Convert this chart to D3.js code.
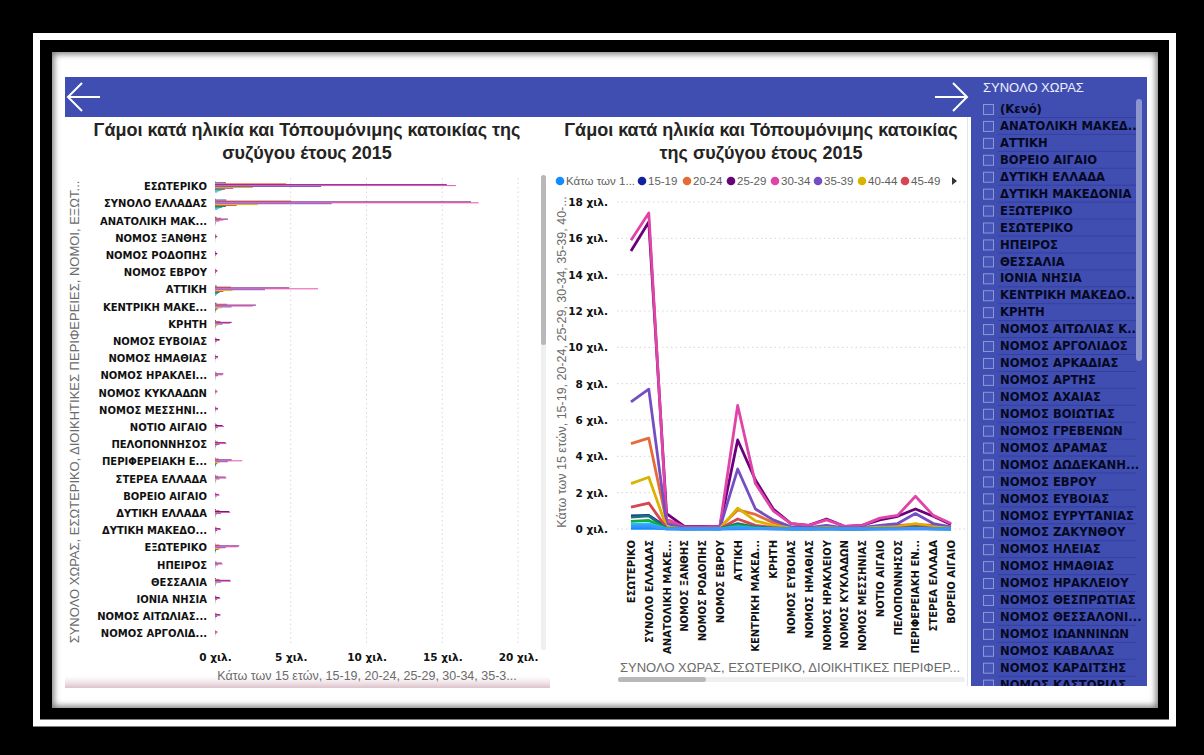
<!DOCTYPE html>
<html>
<head>
<meta charset="utf-8">
<script src="https://cdn.jsdelivr.net/npm/d3@7"></script>
<style>
  body { margin: 0; background: #000; }
  svg { display: block; }
</style>
</head>
<body>
<script>
//--------DATA-------------

// categories (ΣΥΝΟΛΟ ΧΩΡΑΣ, ΕΣΩΤΕΡΙΚΟ, ΔΙΟΙΚΗΤΙΚΕΣ ΠΕΡΙΦΕΡΕΙΕΣ, ΝΟΜΟΙ, ΕΞΩΤΕΡΙΚΟ)
var categories = [
  "ΕΣΩΤΕΡΙΚΟ", "ΣΥΝΟΛΟ ΕΛΛΑΔΑΣ", "ΑΝΑΤΟΛΙΚΗ ΜΑΚΕΔΟΝΙΑ ΚΑΙ ΘΡΑΚΗ", "ΝΟΜΟΣ ΞΑΝΘΗΣ",
  "ΝΟΜΟΣ ΡΟΔΟΠΗΣ", "ΝΟΜΟΣ ΕΒΡΟΥ", "ΑΤΤΙΚΗ", "ΚΕΝΤΡΙΚΗ ΜΑΚΕΔΟΝΙΑ", "ΚΡΗΤΗ",
  "ΝΟΜΟΣ ΕΥΒΟΙΑΣ", "ΝΟΜΟΣ ΗΜΑΘΙΑΣ", "ΝΟΜΟΣ ΗΡΑΚΛΕΙΟΥ", "ΝΟΜΟΣ ΚΥΚΛΑΔΩΝ",
  "ΝΟΜΟΣ ΜΕΣΣΗΝΙΑΣ", "ΝΟΤΙΟ ΑΙΓΑΙΟ", "ΠΕΛΟΠΟΝΝΗΣΟΣ", "ΠΕΡΙΦΕΡΕΙΑΚΗ ΕΝΟΤΗΤΑ ΘΕΣΣΑΛΟΝΙΚΗΣ",
  "ΣΤΕΡΕΑ ΕΛΛΑΔΑ", "ΒΟΡΕΙΟ ΑΙΓΑΙΟ", "ΔΥΤΙΚΗ ΕΛΛΑΔΑ", "ΔΥΤΙΚΗ ΜΑΚΕΔΟΝΙΑ", "ΕΞΩΤΕΡΙΚΟ",
  "ΗΠΕΙΡΟΣ", "ΘΕΣΣΑΛΙΑ", "ΙΟΝΙΑ ΝΗΣΙΑ", "ΝΟΜΟΣ ΑΙΤΩΛΙΑΣ ΚΑΙ ΑΚΑΡΝΑΝΙΑΣ", "ΝΟΜΟΣ ΑΡΓΟΛΙΔΟΣ"
];

// the line chart only shows the first 19 categories
var lineCategoryCount = 19;

var ageGroups = ["Κάτω των 15 ετών", "15-19", "20-24", "25-29", "30-34", "35-39",
  "40-44", "45-49", "50-54", "55-59", "60-64", "65 και άνω"];

var ageColors = ["#118DFF", "#12239E", "#E66C37", "#6B007B", "#E044A7", "#744EC2",
  "#D9B300", "#D64550", "#197278", "#1AAB40", "#15C6F4", "#4092FF"];

// marriages per age group, same order as categories
var under15 = [40, 50, 5, 1, 2, 1, 10, 8, 3, 1, 1, 2, 0, 1, 2, 2, 4, 2, 1, 3, 1, 10, 1, 3, 1, 1, 0];
var age1519 = [720, 750, 100, 30, 40, 20, 120, 100, 50, 20, 20, 30, 10, 20, 30, 40, 40, 40, 10, 60, 20, 30, 20, 50, 20, 20, 10];
var age2024 = [4700, 5000, 400, 70, 80, 80, 1050, 800, 350, 100, 80, 120, 50, 70, 150, 200, 250, 200, 70, 300, 120, 300, 120, 300, 100, 120, 50];
var age2529 = [15300, 16900, 850, 150, 150, 150, 4900, 2700, 1100, 300, 200, 550, 150, 200, 500, 700, 1100, 700, 250, 950, 350, 1600, 450, 1000, 300, 350, 150];
var age3034 = [15900, 17400, 550, 110, 120, 150, 6800, 2500, 1000, 300, 200, 500, 150, 200, 600, 750, 1800, 750, 300, 1000, 400, 1500, 500, 1050, 350, 350, 150];
var age3539 = [7000, 7700, 300, 50, 50, 60, 3300, 1100, 500, 120, 80, 200, 60, 80, 200, 300, 850, 300, 120, 400, 150, 700, 200, 400, 150, 140, 60];
var age4044 = [2500, 2850, 100, 20, 20, 30, 1150, 450, 200, 50, 30, 80, 30, 30, 100, 120, 300, 120, 50, 150, 60, 350, 70, 150, 60, 50, 20];
var age4549 = [1200, 1430, 50, 10, 10, 20, 550, 200, 80, 20, 10, 30, 10, 10, 40, 50, 150, 50, 20, 60, 30, 230, 30, 60, 30, 20, 10];
var age5054 = [650, 720, 30, 10, 10, 10, 300, 110, 40, 10, 10, 20, 5, 10, 20, 25, 80, 25, 10, 30, 15, 70, 15, 30, 15, 10, 5];
var age5559 = [420, 470, 20, 5, 5, 5, 200, 70, 25, 8, 5, 12, 4, 6, 15, 18, 50, 15, 6, 20, 10, 50, 10, 20, 10, 8, 4];
var age6064 = [250, 280, 10, 3, 3, 3, 120, 40, 15, 5, 3, 8, 3, 4, 10, 10, 30, 10, 4, 12, 6, 30, 6, 12, 6, 5, 2];
var age65 = [150, 170, 6, 2, 2, 2, 80, 25, 10, 3, 2, 5, 2, 2, 6, 6, 18, 6, 2, 8, 4, 20, 4, 8, 4, 3, 1];

var seriesValues = [under15, age1519, age2024, age2529, age3034, age3539,
  age4044, age4549, age5054, age5559, age6064, age65];

var barTicks = [0, 5000, 10000, 15000, 20000];
var lineTicks = [0, 2000, 4000, 6000, 8000, 10000, 12000, 14000, 16000, 18000];

var valueAxisTitle = "Κάτω των 15 ετών, 15-19, 20-24, 25-29, 30-34, 35-39, 40-44, 45-49, 50-54, 55-59, 60-64, 65 και άνω";
var categoryAxisTitle = "ΣΥΝΟΛΟ ΧΩΡΑΣ, ΕΣΩΤΕΡΙΚΟ, ΔΙΟΙΚΗΤΙΚΕΣ ΠΕΡΙΦΕΡΕΙΕΣ, ΝΟΜΟΙ, ΕΞΩΤΕΡΙΚΟ";

var slicerTitle = "ΣΥΝΟΛΟ ΧΩΡΑΣ";
var slicerItems = ["(Κενό)", "ΑΝΑΤΟΛΙΚΗ ΜΑΚΕΔΟΝΙΑ ΚΑΙ ΘΡΑΚΗ", "ΑΤΤΙΚΗ", "ΒΟΡΕΙΟ ΑΙΓΑΙΟ",
  "ΔΥΤΙΚΗ ΕΛΛΑΔΑ", "ΔΥΤΙΚΗ ΜΑΚΕΔΟΝΙΑ", "ΕΞΩΤΕΡΙΚΟ", "ΕΣΩΤΕΡΙΚΟ", "ΗΠΕΙΡΟΣ", "ΘΕΣΣΑΛΙΑ",
  "ΙΟΝΙΑ ΝΗΣΙΑ", "ΚΕΝΤΡΙΚΗ ΜΑΚΕΔΟΝΙΑ", "ΚΡΗΤΗ", "ΝΟΜΟΣ ΑΙΤΩΛΙΑΣ ΚΑΙ ΑΚΑΡΝΑΝΙΑΣ",
  "ΝΟΜΟΣ ΑΡΓΟΛΙΔΟΣ", "ΝΟΜΟΣ ΑΡΚΑΔΙΑΣ", "ΝΟΜΟΣ ΑΡΤΗΣ", "ΝΟΜΟΣ ΑΧΑΙΑΣ", "ΝΟΜΟΣ ΒΟΙΩΤΙΑΣ",
  "ΝΟΜΟΣ ΓΡΕΒΕΝΩΝ", "ΝΟΜΟΣ ΔΡΑΜΑΣ", "ΝΟΜΟΣ ΔΩΔΕΚΑΝΗΣΟΥ", "ΝΟΜΟΣ ΕΒΡΟΥ", "ΝΟΜΟΣ ΕΥΒΟΙΑΣ",
  "ΝΟΜΟΣ ΕΥΡΥΤΑΝΙΑΣ", "ΝΟΜΟΣ ΖΑΚΥΝΘΟΥ", "ΝΟΜΟΣ ΗΛΕΙΑΣ", "ΝΟΜΟΣ ΗΜΑΘΙΑΣ", "ΝΟΜΟΣ ΗΡΑΚΛΕΙΟΥ",
  "ΝΟΜΟΣ ΘΕΣΠΡΩΤΙΑΣ", "ΝΟΜΟΣ ΘΕΣΣΑΛΟΝΙΚΗΣ", "ΝΟΜΟΣ ΙΩΑΝΝΙΝΩΝ", "ΝΟΜΟΣ ΚΑΒΑΛΑΣ",
  "ΝΟΜΟΣ ΚΑΡΔΙΤΣΗΣ", "ΝΟΜΟΣ ΚΑΣΤΟΡΙΑΣ"];

//--------HELPERS-------------

var BLUE = "#404EB2";
var boldFont = "'DejaVu Sans', Verdana, sans-serif";
var sansFont = "'Liberation Sans', Arial, sans-serif";

// cut a text down with "..." until it fits maxWidth, like Power BI does
function fitText(sel, maxWidth) {
  sel.each(function() {
    var t = d3.select(this);
    var s = t.text();
    while (s.length > 1 && this.getComputedTextLength() > maxWidth) {
      s = s.slice(0, -1);
      t.text(s.replace(/\s+$/, "") + "...");
    }
  });
}

function kLabel(v) {
  return (v / 1000) + " χιλ.";
}

function drawTitle(g, cx, lines) {
  lines.forEach(function(line, i) {
    g.append("text")
      .attr("x", cx)
      .attr("y", 136 + i * 23)
      .attr("text-anchor", "middle")
      .attr("font-family", sansFont)
      .attr("font-weight", "bold")
      .attr("font-size", 18)
      .attr("fill", "#252423")
      .text(line);
  });
}

//--------MAIN-------------

var svg = d3.select("body").append("svg")
  .attr("width", 1204)
  .attr("height", 755);

var defs = svg.append("defs");
defs.append("filter").attr("id", "blur")
  .append("feGaussianBlur").attr("stdDeviation", 3);
defs.append("clipPath").attr("id", "pageClip")
  .append("rect").attr("x", 52).attr("y", 52).attr("width", 1106).attr("height", 656);
defs.append("clipPath").attr("id", "slicerClip")
  .append("rect").attr("x", 971).attr("y", 100).attr("width", 172).attr("height", 586);
var fade = defs.append("linearGradient").attr("id", "cardShadow")
  .attr("x1", 0).attr("y1", 0).attr("x2", 0).attr("y2", 1);
fade.append("stop").attr("offset", "0%").attr("stop-color", "#e8d6dc").attr("stop-opacity", 0);
fade.append("stop").attr("offset", "100%").attr("stop-color", "#d8bcc6").attr("stop-opacity", 0.9);

// outer white frame
svg.append("rect")
  .attr("x", 36.5).attr("y", 36.5)
  .attr("width", 1136).attr("height", 686.5)
  .attr("fill", "none")
  .attr("stroke", "#fff")
  .attr("stroke-width", 7);

// report page with a soft inner shadow
svg.append("rect")
  .attr("x", 52).attr("y", 52).attr("width", 1106).attr("height", 656)
  .attr("fill", "#fff");
svg.append("g").attr("clip-path", "url(#pageClip)")
  .append("rect")
  .attr("x", 50).attr("y", 50).attr("width", 1110).attr("height", 660)
  .attr("fill", "none")
  .attr("stroke", "#777")
  .attr("stroke-width", 8)
  .attr("filter", "url(#blur)");

// header bar + slicer panel
svg.append("rect")
  .attr("x", 65).attr("y", 77).attr("width", 1082).attr("height", 40)
  .attr("fill", BLUE);
svg.append("rect")
  .attr("x", 971).attr("y", 77).attr("width", 176).attr("height", 609)
  .attr("fill", BLUE);

// back / forward arrows
var arrows = svg.append("g")
  .attr("stroke", "#fff")
  .attr("stroke-width", 2)
  .attr("fill", "none");
arrows.append("path").attr("d", "M100,97 H68 M82,83 L68,97 L82,111");
arrows.append("path").attr("d", "M935,97 H967 M953,83 L967,97 L953,111");

// bottom shadow of the left card
svg.append("rect")
  .attr("x", 65).attr("y", 676).attr("width", 485).attr("height", 12)
  .attr("fill", "url(#cardShadow)");

// faint border on the right card
svg.append("line")
  .attr("x1", 967.5).attr("x2", 967.5).attr("y1", 117).attr("y2", 686)
  .attr("stroke", "#dfe4f2");

//--------LEFT CHART: clustered bars-------------

var barChart = svg.append("g");
drawTitle(barChart, 307, ["Γάμοι κατά ηλικία και Τόπουμόνιμης κατοικίας της", "συζύγου έτους 2015"]);

var xBar = d3.scaleLinear()
  .domain([0, 20000])
  .range([215, 518]);

var yBand = d3.scaleBand()
  .domain(categories)
  .range([178.4, 178.4 + categories.length * 17.2])
  .paddingInner(0.36)
  .paddingOuter(0.18);

var yInner = d3.scaleBand()
  .domain(ageGroups)
  .range([0, yBand.bandwidth()]);

// dotted gridlines
barChart.append("g")
  .selectAll("line")
  .data(barTicks.slice(1))
  .enter()
  .append("line")
  .attr("x1", d => xBar(d)).attr("x2", d => xBar(d))
  .attr("y1", 178).attr("y2", 646)
  .attr("stroke", "#d6d6d6")
  .attr("stroke-dasharray", "1.5,3");

// x axis
var bottomAxis = d3.axisBottom(xBar)
  .tickValues(barTicks)
  .tickFormat(kLabel)
  .tickSize(0)
  .tickPadding(0);
var xAxisBar = barChart.append("g")
  .attr("transform", "translate(0, 654)")
  .call(bottomAxis);
xAxisBar.select(".domain").remove();
xAxisBar.selectAll("text")
  .attr("font-family", boldFont)
  .attr("font-weight", "bold")
  .attr("font-size", 10.5)
  .attr("fill", "#111");

// y axis
var leftAxis = d3.axisLeft(yBand).tickSize(0).tickPadding(8);
var yAxisBar = barChart.append("g")
  .attr("transform", "translate(215, 0)")
  .call(leftAxis);
yAxisBar.select(".domain").remove();
yAxisBar.selectAll("text")
  .attr("font-family", boldFont)
  .attr("font-weight", "bold")
  .attr("font-size", 10)
  .attr("fill", "#111")
  .call(fitText, 110);

// bars
var rowGroups = barChart.append("g")
  .selectAll("g")
  .data(categories)
  .enter()
  .append("g")
  .attr("transform", d => `translate(0, ${yBand(d)})`);

rowGroups.selectAll("rect")
  .data((c, ci) => ageGroups.map((a, si) => ({ age: a, color: ageColors[si], value: seriesValues[si][ci] })))
  .enter()
  .append("rect")
  .attr("x", xBar(0))
  .attr("y", d => yInner(d.age))
  .attr("width", d => xBar(d.value) - xBar(0))
  .attr("height", yInner.bandwidth())
  .attr("fill", d => d.color);

// axis titles
barChart.append("text")
  .attr("x", 367)
  .attr("y", 680)
  .attr("text-anchor", "middle")
  .attr("font-family", sansFont)
  .attr("font-size", 12.5)
  .attr("fill", "#6b6b6b")
  .text(valueAxisTitle)
  .call(fitText, 300);

barChart.append("text")
  .attr("transform", "translate(79, 412) rotate(-90)")
  .attr("text-anchor", "middle")
  .attr("font-family", sansFont)
  .attr("font-size", 13)
  .attr("fill", "#6b6b6b")
  .text(categoryAxisTitle)
  .call(fitText, 468);

// vertical scrollbar
barChart.append("rect")
  .attr("x", 541).attr("y", 175).attr("width", 5).attr("height", 475)
  .attr("rx", 2.5).attr("fill", "#efefef");
barChart.append("rect")
  .attr("x", 541).attr("y", 175).attr("width", 5).attr("height", 170)
  .attr("rx", 2.5).attr("fill", "#b8b8b8");

//--------RIGHT CHART: lines-------------

var lineChart = svg.append("g");
drawTitle(lineChart, 761, ["Γάμοι κατά ηλικία και Τόπουμόνιμης κατοικίας", "της συζύγου έτους 2015"]);

var lineCats = categories.slice(0, lineCategoryCount);

var xPoint = d3.scalePoint()
  .domain(lineCats)
  .range([631, 951]);

var yLine = d3.scaleLinear()
  .domain([0, 18000])
  .range([529, 202]);

// dotted gridlines
lineChart.append("g")
  .selectAll("line")
  .data(lineTicks)
  .enter()
  .append("line")
  .attr("x1", 617).attr("x2", 965)
  .attr("y1", d => yLine(d)).attr("y2", d => yLine(d))
  .attr("stroke", "#d6d6d6")
  .attr("stroke-dasharray", "1.5,3");

// y axis
var yAxisLine = lineChart.append("g")
  .attr("transform", "translate(608, 0)")
  .call(d3.axisLeft(yLine).tickValues(lineTicks).tickFormat(kLabel).tickSize(0).tickPadding(0));
yAxisLine.select(".domain").remove();
yAxisLine.selectAll("text")
  .attr("font-family", boldFont)
  .attr("font-weight", "bold")
  .attr("font-size", 10.5)
  .attr("fill", "#111");

// x axis, labels rotated
var xAxisLine = lineChart.append("g")
  .attr("transform", "translate(0, 540)")
  .call(d3.axisBottom(xPoint).tickSize(0).tickPadding(0));
xAxisLine.select(".domain").remove();
xAxisLine.selectAll("text")
  .attr("transform", "rotate(-90)")
  .attr("text-anchor", "end")
  .attr("x", 0)
  .attr("y", 0)
  .attr("dy", "0.35em")
  .attr("font-family", boldFont)
  .attr("font-weight", "bold")
  .attr("font-size", 10)
  .attr("fill", "#111")
  .call(fitText, 117);

// one line per age group
var lineGen = d3.line()
  .x(d => xPoint(d.cat))
  .y(d => yLine(d.value));

lineChart.append("g")
  .selectAll("path")
  .data(ageGroups.map((a, si) => ({
    age: a,
    color: ageColors[si],
    points: lineCats.map((c, ci) => ({ cat: c, value: seriesValues[si][ci] }))
  })))
  .enter()
  .append("path")
  .attr("d", d => lineGen(d.points))
  .attr("fill", "none")
  .attr("stroke", d => d.color)
  .attr("stroke-width", 2.8)
  .attr("stroke-linejoin", "round");

// legend (first 8 groups, then the paging arrow)
var legendX = [560, 642, 687, 731, 775, 818, 862, 905];
var legend = lineChart.append("g")
  .selectAll("g")
  .data(ageGroups.slice(0, 8))
  .enter()
  .append("g")
  .attr("transform", (d, i) => `translate(${legendX[i]}, 181)`);
legend.append("circle")
  .attr("r", 4.3)
  .attr("fill", (d, i) => ageColors[i]);
legend.append("text")
  .attr("x", 6)
  .attr("dy", "0.35em")
  .attr("font-family", sansFont)
  .attr("font-size", 11.5)
  .attr("fill", "#605e5c")
  .text(d => d)
  .filter((d, i) => i === 0)
  .call(fitText, 70);
lineChart.append("path")
  .attr("d", "M952,177 L957,181 L952,185 Z")
  .attr("fill", "#333");

// axis titles
lineChart.append("text")
  .attr("transform", "translate(566, 362) rotate(-90)")
  .attr("text-anchor", "middle")
  .attr("font-family", sansFont)
  .attr("font-size", 12.5)
  .attr("fill", "#6b6b6b")
  .text(valueAxisTitle)
  .call(fitText, 336);

lineChart.append("text")
  .attr("x", 620)
  .attr("y", 672)
  .attr("font-family", sansFont)
  .attr("font-size", 13)
  .attr("fill", "#6b6b6b")
  .text(categoryAxisTitle)
  .call(fitText, 342);

// horizontal scrollbar
lineChart.append("rect")
  .attr("x", 618).attr("y", 677).attr("width", 347).attr("height", 5)
  .attr("rx", 2.5).attr("fill", "#efefef");
lineChart.append("rect")
  .attr("x", 618).attr("y", 677).attr("width", 88).attr("height", 5)
  .attr("rx", 2.5).attr("fill", "#b8b8b8");

//--------SLICER-------------

var slicer = svg.append("g");
slicer.append("text")
  .attr("x", 983)
  .attr("y", 92)
  .attr("font-family", sansFont)
  .attr("font-size", 13)
  .attr("fill", "#eef0fb")
  .text(slicerTitle);

var rows = slicer.append("g")
  .attr("clip-path", "url(#slicerClip)")
  .selectAll("g")
  .data(slicerItems)
  .enter()
  .append("g")
  .attr("transform", (d, i) => `translate(0, ${109 + i * 16.93})`);

rows.append("line")
  .attr("x1", 998).attr("x2", 1136)
  .attr("y1", 8.5).attr("y2", 8.5)
  .attr("stroke", "#3441a0");
rows.append("rect")
  .attr("x", 983.5).attr("y", -4.5)
  .attr("width", 10).attr("height", 10)
  .attr("fill", "#4654b8")
  .attr("stroke", "#8e97d6");
rows.append("text")
  .attr("x", 1000)
  .attr("dy", "0.36em")
  .attr("font-family", boldFont)
  .attr("font-weight", "bold")
  .attr("font-size", 11.6)
  .attr("fill", "#06081f")
  .text(d => d)
  .call(fitText, 146);

// slicer scrollbar
slicer.append("rect")
  .attr("x", 1136).attr("y", 99).attr("width", 6).attr("height", 262)
  .attr("rx", 3).attr("fill", "#8d95cf");
</script>
</body>
</html>
